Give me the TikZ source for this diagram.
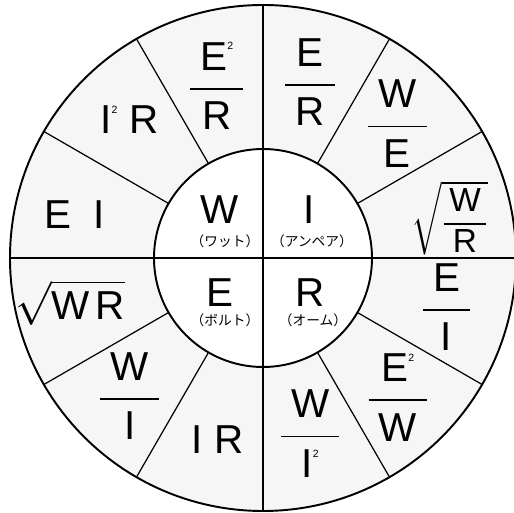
\documentclass[tikz,border=0pt]{standalone}
\usepackage{amsmath}
\usepackage{fontspec}
\setmainfont{Liberation Sans}
\newfontfamily\jpfont{Noto Sans CJK JP}
\tikzset{
  rim/.style={line width=1.1pt},
  spoke/.style={line width=0.7pt},
  axis/.style={line width=1.1pt},
  sym/.style={font=\fontsize{23}{25}\selectfont,inner sep=0pt},
  unit/.style={font=\jpfont\fontsize{7.8}{8}\selectfont,inner sep=0pt}
}
\newcommand{\sqd}{\raisebox{0.5em}{\fontsize{6}{6}\selectfont 2}}
\newcommand{\fr}[2]{$\dfrac{\mbox{\hspace{0.25em}#1\hspace{0.25em}}}{\mbox{\hspace{0.25em}#2\hspace{0.25em}}}$}

\begin{document}
\begin{tikzpicture}[x=0.02cm,y=0.02cm]
\useasboundingbox (-263,-255) rectangle (251,258);
\fill[gray!7] (0,0) circle (253); \fill[white] (0,0) circle (109);
\foreach \a in {30,60,120,150,210,240,300,330} \draw[spoke] (\a:109) -- (\a:253);
\draw[axis] (-253,0) -- (253,0); \draw[axis] (0,-253) -- (0,253);
\draw[rim] (0,0) circle (253); \draw[rim] (0,0) circle (109);
% power, current, voltage, resistance
\node[sym] (w) at (-43,48) {W}; \node[unit] (wu) at (-38,17) {（ワット）};
\node[sym] (i) at (46,48) {I}; \node[unit] (iu) at (49,17) {（アンペア）};
\node[sym] (e) at (-43,-35) {E}; \node[unit] (eu) at (-38,-62) {（ボルト）};
\node[sym] (r) at (47,-35) {R}; \node[unit] (ru) at (50,-62) {（オーム）};
% outer ring
\node[sym] (er) at (75:182) {\fr{E}{R}};
\node[sym] (we) at (45:190) {\fr{W}{E}};
\node[sym,font=\fontsize{19}{21}\selectfont] (wr) at (12:191) {$\sqrt{\dfrac{\mbox{\,W\,}}{\mbox{\,R\,}}}$};
\node[sym] (ei) at (-15:190) {\fr{E}{I}};
\node[sym] (e2w) at (-46:194) {\fr{E\sqd}{W}};
\node[sym] (wi2) at (-75:182) {\fr{W}{I\sqd}};
\node[sym] (ir) at (-104:187) {I\hspace{0.3em}R};
\node[sym] (wi) at (-134:192) {\fr{W}{I}};
\node[sym] (swr) at (-167:198) {$\sqrt{\mbox{W\hspace{0.15em}R}}$};
\node[sym] (eii) at (167:193) {E\hspace{0.55em}I};
\node[sym] (i2r) at (134:192) {I\sqd\hspace{0.3em}R};
\node[sym] (e2r) at (105:178) {\fr{E\sqd}{R}};
\end{tikzpicture}
\end{document}
